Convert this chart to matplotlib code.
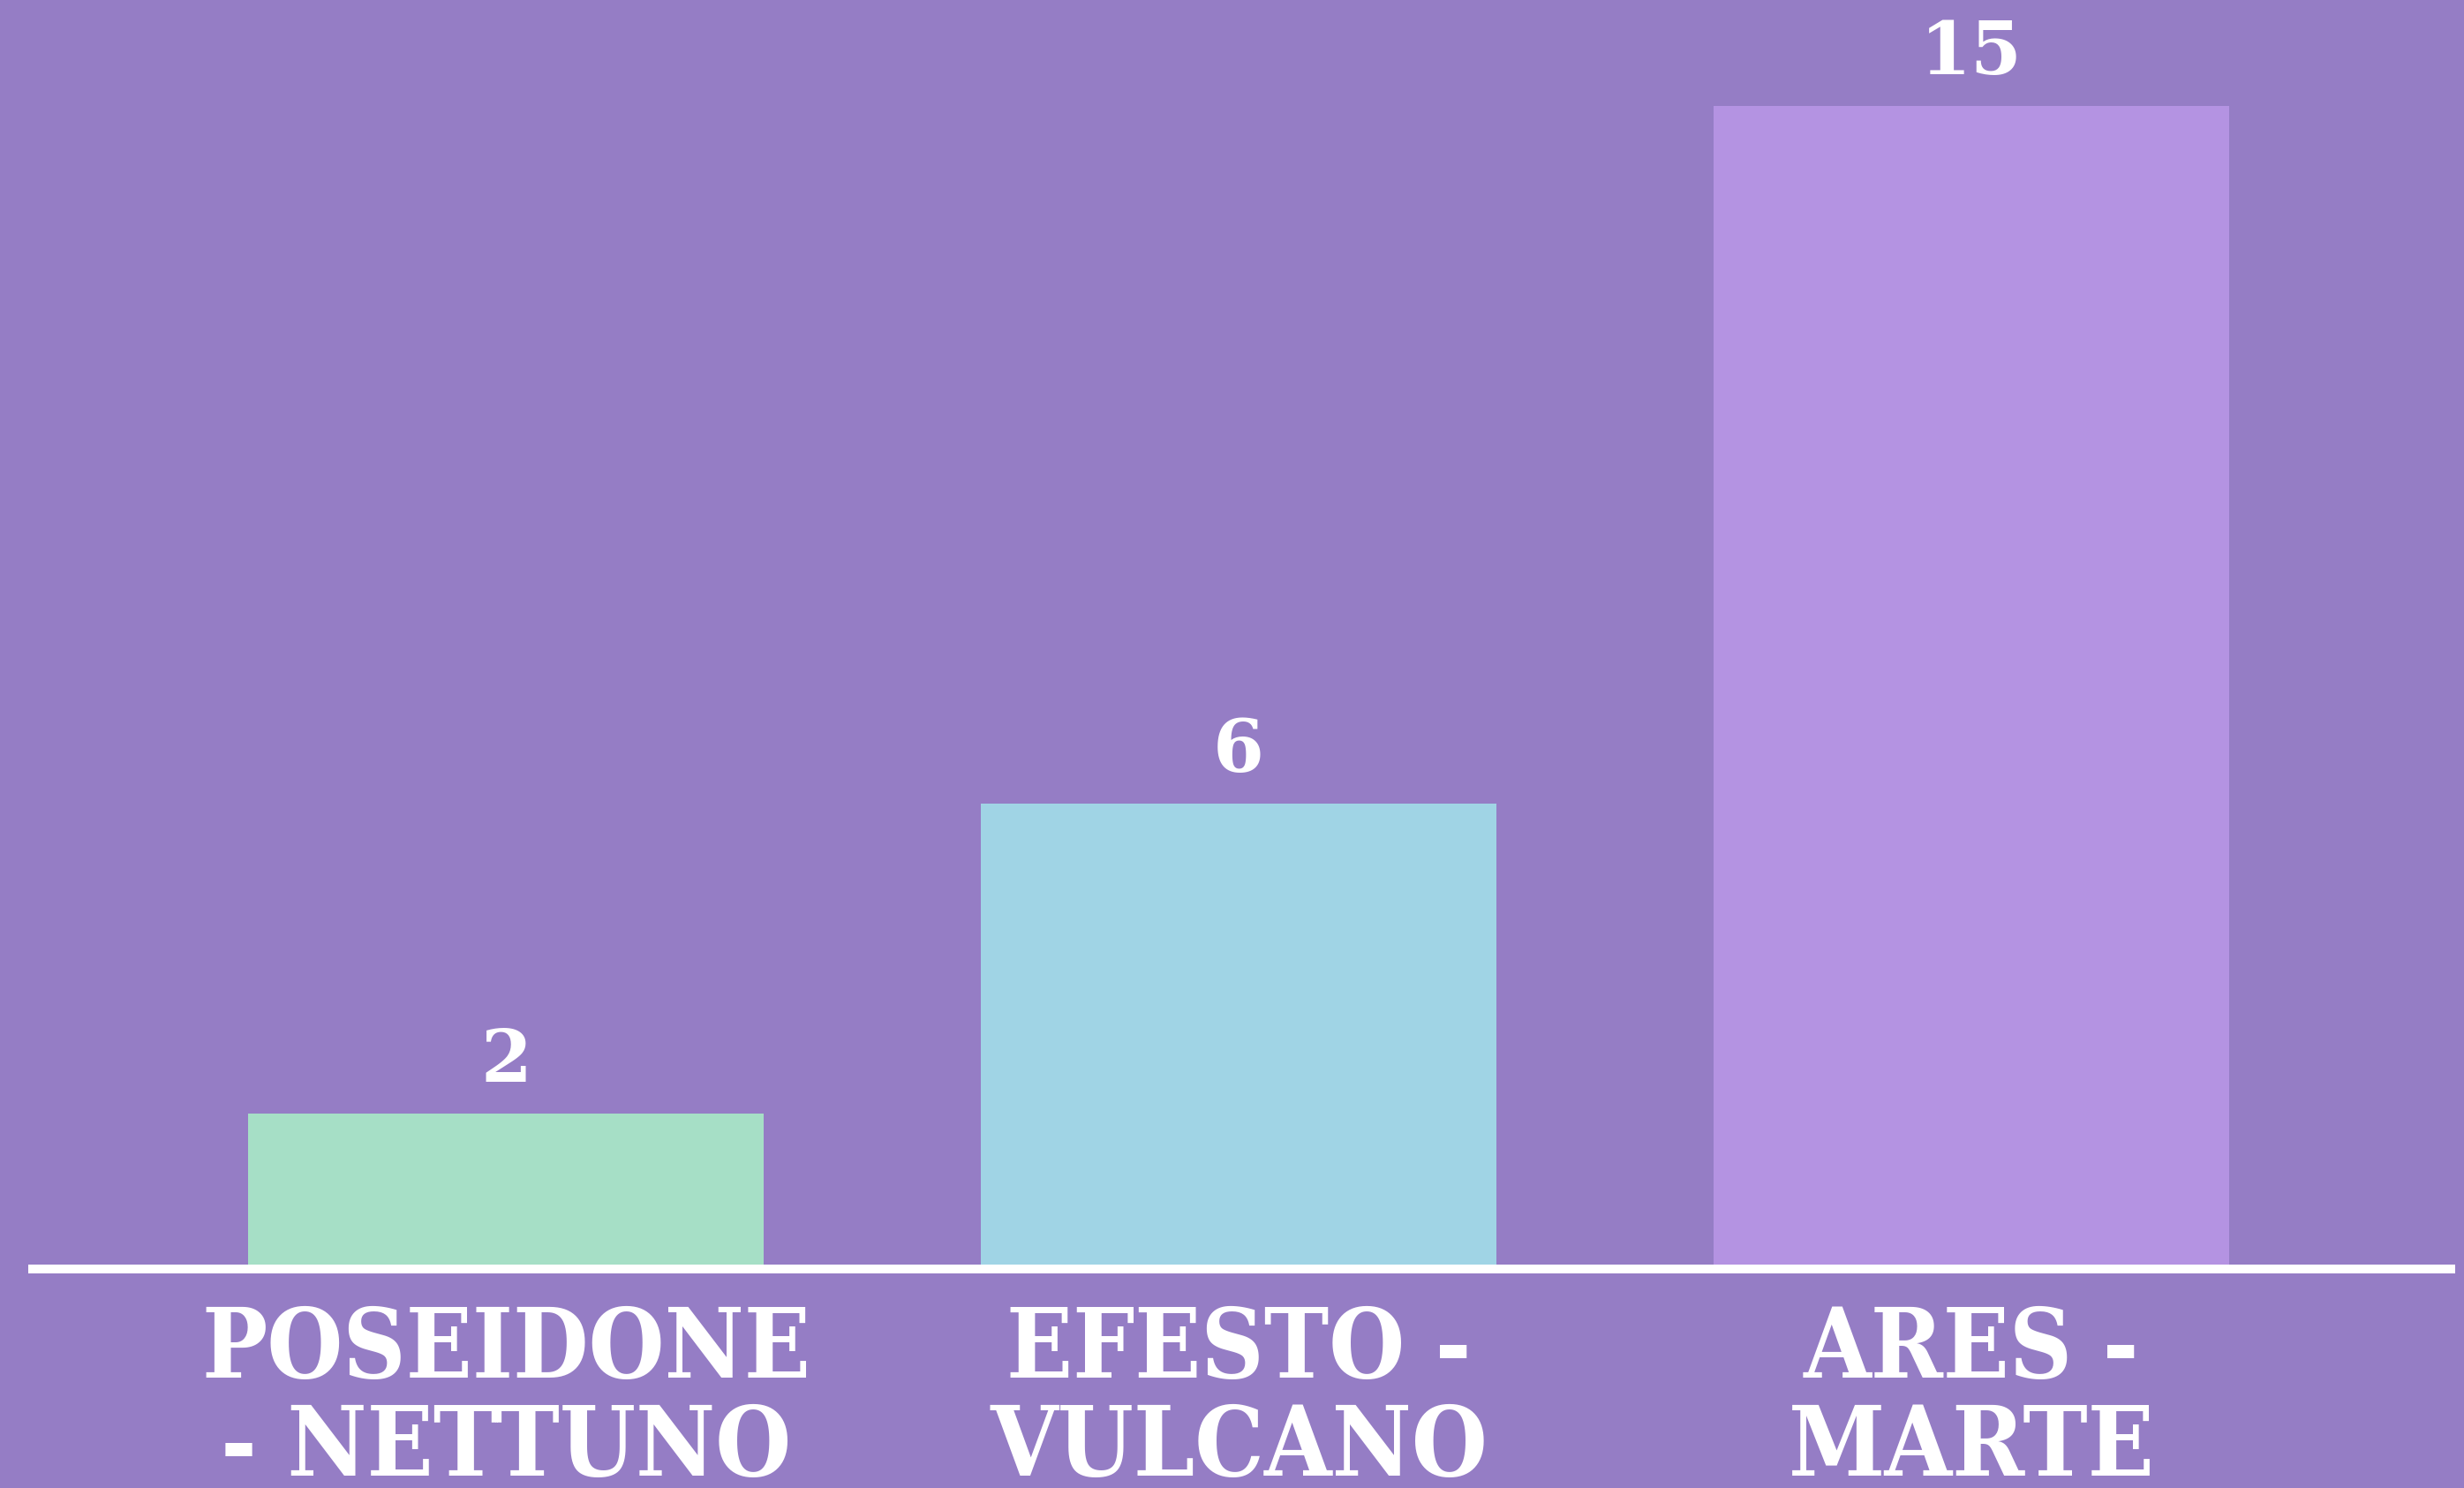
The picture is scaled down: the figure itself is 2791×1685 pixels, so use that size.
import matplotlib
matplotlib.use("Agg")
import matplotlib.pyplot as plt

# Dati
dei = ["POSEIDONE\n- NETTUNO", "EFESTO -\nVULCANO", "ARES -\nMARTE"]
valori = [2, 6, 15]
colori = ["#A6DFC6", "#A0D4E5", "#B493E2"]
SFONDO = "#957DC5"

W, H = 2791, 1685
fig = plt.figure(figsize=(W / 100, H / 100), dpi=100, facecolor=SFONDO)
base_px = 1437  # linea di base, pixel dall'alto
ax = fig.add_axes([0, (H - base_px) / H, 1, base_px / H])
ax.set_facecolor(SFONDO)

passo = 830.0
centro0 = 573.0
ax.set_xlim(-centro0 / passo, (W - centro0) / passo)
ax.set_ylim(0, base_px / 87.8)

x = range(len(valori))
ax.bar(x, valori, width=584 / passo, color=colori, zorder=2)

# linea dell'asse
ax.plot([(32 - centro0) / passo, (2781 - centro0) / passo], [0, 0],
        color="white", lw=7.2, solid_capstyle="butt", clip_on=False, zorder=3)

for xi, v in zip(x, valori):
    ax.annotate(str(v), (xi, v), xytext=(0, 14), textcoords="offset points",
                ha="center", va="bottom", color="white", fontsize=60,
                fontweight="bold", family="DejaVu Serif")

for xi, d in zip(x, dei):
    ax.annotate(d, (xi, 0), xytext=(0, -28), textcoords="offset points",
                ha="center", va="top", color="white", fontsize=79,
                fontweight="bold", fontstretch="condensed",
                family="DejaVu Serif", linespacing=1.05,
                annotation_clip=False)

ax.axis("off")
fig.savefig("out.png", dpi=100, facecolor=SFONDO)
